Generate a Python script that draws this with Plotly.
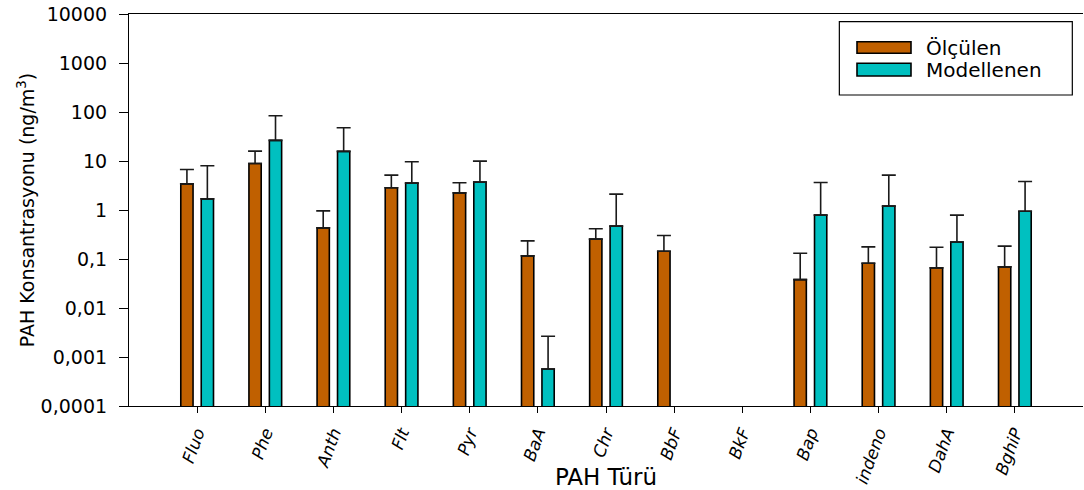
import plotly.graph_objects as go

# PAH species on the x axis
categories = ["Fluo", "Phe", "Anth", "Flt", "Pyr", "BaA", "Chr", "BbF", "BkF",
              "Bap", "indeno", "DahA", "BghiP"]

# Measured concentrations (ng/m3) and upper end of their error bars
measured = [3.42, 8.9, 0.432, 2.84, 2.24, 0.116, 0.254, 0.144, None,
            0.038, 0.082, 0.066, 0.069]
measured_upper = [6.73, 15.9, 0.96, 5.15, 3.59, 0.234, 0.413, 0.302, None,
                  0.131, 0.177, 0.174, 0.183]

# Modelled concentrations (ng/m3) and upper end of their error bars
modelled = [1.69, 26.3, 15.7, 3.53, 3.7, 0.00057, 0.468, None, None,
            0.785, 1.2, 0.223, 0.946]
modelled_upper = [7.98, 83.7, 47.6, 9.63, 9.95, 0.00265, 2.11, None, None,
                  3.65, 5.15, 0.785, 3.82]

# Log-axis tick values with comma decimal labels
tick_values = [0.0001, 0.001, 0.01, 0.1, 1, 10, 100, 1000, 10000]
tick_labels = ["0,0001", "0,001", "0,01", "0,1", "1", "10", "100", "1000", "10000"]

series_names = ["Ölçülen", "Modellenen"]
series_colors = ["#C06000", "#00C0C0"]


def upper_err(vals, ups):
    return [None if v is None else u - v for v, u in zip(vals, ups)]


def zeros(vals):
    return [None if v is None else 0 for v in vals]


FONT = "DejaVu Sans"

fig = go.Figure()
for name, color, vals, ups in [
    (series_names[0], series_colors[0], measured, measured_upper),
    (series_names[1], series_colors[1], modelled, modelled_upper),
]:
    fig.add_trace(go.Bar(
        x=categories, y=vals, name=name,
        marker=dict(color=color, line=dict(color="#000000", width=1.6)),
        error_y=dict(type="data", symmetric=False,
                     array=upper_err(vals, ups), arrayminus=zeros(vals),
                     color="#1a1a1a", thickness=1.6, width=7),
        showlegend=False,
    ))

# Boxed legend with wide swatches
shapes = [
    dict(type="rect", xref="paper", yref="paper",
         x0=0.7446, x1=0.9888, y0=0.7934, y1=0.9803,
         line=dict(color="#000000", width=1.2), fillcolor="rgba(0,0,0,0)"),
]
annotations = []
for i, (name, color) in enumerate(zip(series_names, series_colors)):
    y0, y1 = [(0.8997, 0.9293), (0.8418, 0.8742)][i]
    shapes.append(dict(type="rect", xref="paper", yref="paper",
                       x0=0.7631, x1=0.8197, y0=y0, y1=y1,
                       line=dict(color="#000000", width=1.6), fillcolor=color))
    annotations.append(dict(xref="paper", yref="paper", x=0.8330, y=(y0 + y1) / 2,
                            text=name, showarrow=False, xanchor="left", yanchor="middle",
                            font=dict(family=FONT, size=20, color="#000000")))

fig.update_layout(
    width=1084, height=490,
    margin=dict(l=129, r=1, t=14, b=84),
    paper_bgcolor="white", plot_bgcolor="white",
    barmode="group", bargap=0.4, bargroupgap=0.4,
    shapes=shapes, annotations=annotations,
    font=dict(family=FONT, color="#000000"),
)

fig.update_xaxes(
    range=[-1, 13], showgrid=False, zeroline=False,
    showline=True, linecolor="#000000", linewidth=1.2, mirror=True,
    ticks="outside", ticklen=6, tickcolor="#000000", tickwidth=1.2,
    tickangle=-70, tickfont=dict(family=FONT, size=17, style="italic"),
    ticklabelstandoff=3,
    title=dict(text="PAH Türü", font=dict(family=FONT, size=23), standoff=2),
    automargin=False,
)

fig.update_yaxes(
    type="log", range=[-4, 4], showgrid=False, zeroline=False,
    showline=True, linecolor="#000000", linewidth=1.2,
    ticks="outside", ticklen=9, tickcolor="#000000", tickwidth=1.2,
    tickvals=tick_values, ticktext=tick_labels,
    tickfont=dict(family=FONT, size=19), ticklabelstandoff=8,
    title=dict(text="PAH Konsantrasyonu (ng/m<sup>3</sup>)",
               font=dict(family=FONT, size=19), standoff=0),
    automargin=False,
)

fig.write_html("out.html")
